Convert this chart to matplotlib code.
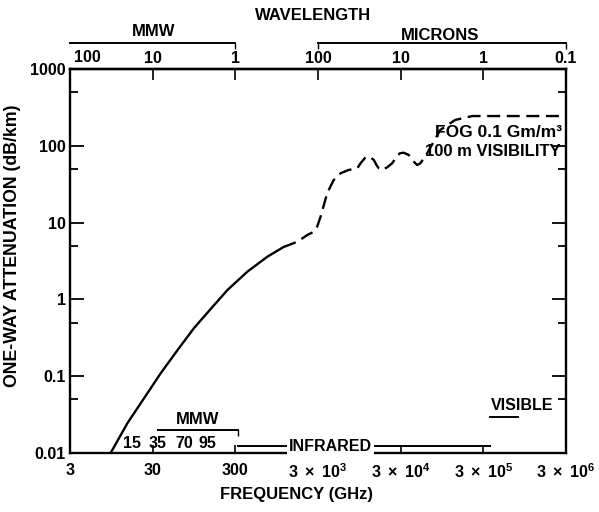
import matplotlib
matplotlib.use("Agg")
import matplotlib.pyplot as plt
import matplotlib.transforms as mtransforms
from matplotlib.ticker import FixedLocator, NullLocator, NullFormatter

plt.rcParams['font.family'] = ['Liberation Sans', 'DejaVu Sans']
plt.rcParams['font.weight'] = 'bold'
plt.rcParams['mathtext.fontset'] = 'custom'
plt.rcParams['mathtext.rm'] = 'Liberation Sans:bold'
plt.rcParams['mathtext.bf'] = 'Liberation Sans:bold'
plt.rcParams['mathtext.it'] = 'Liberation Sans:bold'

# ---- data ----
freq_solid = [9.3, 14.9, 26.0, 37.7, 60, 95, 151, 240, 420, 733, 1150]
atten_solid = [0.0100, 0.0246, 0.0604, 0.110, 0.219, 0.424, 0.75, 1.32, 2.30, 3.60, 4.81]

freq_dash = [1150, 1690, 2230, 2670, 2930, 3220, 3880, 4650, 5625, 7030, 8955,
             9800, 11270, 12710, 14200, 15300, 16300, 17950, 20600, 23700,
             25950, 29250, 32700, 37600, 41300, 47500, 52000, 57000, 62700,
             90600, 137000, 220000, 3.0e6]
atten_dash = [4.81, 5.64, 6.9, 7.6, 8.85, 11.9, 24.3, 35.9, 43.9, 48.4, 50.9,
              59.2, 70.8, 72.1, 65.3, 56.2, 50.9, 48.4, 52.5, 59.2,
              68.8, 79.9, 81.3, 75.9, 65.3, 56.2, 59.2, 68.8, 79.9,
              161, 217, 244, 244]

freq_ticks = [3, 30, 300, 3e3, 3e4, 3e5, 3e6]
freq_labels = ["3", "30", "300", r"$3\ \times\ 10^{3}$", r"$3\ \times\ 10^{4}$",
               r"$3\ \times\ 10^{5}$", r"$3\ \times\ 10^{6}$"]
atten_ticks = [0.01, 0.1, 1, 10, 100, 1000]
atten_labels = ["0.01", "0.1", "1", "10", "100", "1000"]
atten_minor = [0.05, 0.5, 5, 50, 500]

wl_mm = [100, 10, 1]
wl_mm_labels = ["100", "10", "1"]
wl_um = [100, 10, 1, 0.1]
wl_um_labels = ["100", "10", "1", "0.1"]

mmw_band_top = [3, 300]          # 100 mm .. 1 mm
micron_band_top = [3e3, 3e6]     # 100 um .. 0.1 um
mmw_band = [35, 320]
infrared_band = [320, 3.65e5]
visible_band = [3.65e5, 7.9e5]
windows = ["15", "35", "70", "95"]

W, H = 599, 512
fig = plt.figure(figsize=(W / 100, H / 100), dpi=100)
L, R, T, B = 70, 566, 69, 453
ax = fig.add_axes([L / W, 1 - B / H, (R - L) / W, (B - T) / H])
ax.set_xscale('log')
ax.set_yscale('log')
ax.set_xlim(3, 3e6)
ax.set_ylim(0.01, 1000)

for s in ax.spines.values():
    s.set_linewidth(1.7)

ax.plot(freq_solid, atten_solid, color='black', lw=1.7, solid_capstyle='round')
ax.plot(freq_dash, atten_dash, color='black', lw=1.7, linestyle=(0, (5.5, 2.8)))

fs = 11.5
ax.set_xticks(freq_ticks, freq_labels, fontsize=fs, fontweight='bold')
ax.xaxis.set_minor_locator(NullLocator())
ax.tick_params(axis='x', which='major', direction='in', length=6, width=1.2,
               pad=7, top=False)
ax.set_yticks(atten_ticks, atten_labels, fontsize=fs, fontweight='bold')
ax.yaxis.set_minor_locator(FixedLocator(atten_minor))
ax.yaxis.set_minor_formatter(NullFormatter())
ax.tick_params(axis='y', which='major', direction='in', length=10, width=1.3,
               pad=3, right=True)
ax.tick_params(axis='y', which='minor', direction='in', length=6, width=1.3,
               right=True)

# top wavelength axis
sec = ax.secondary_xaxis('top')
wl_freqs = [300.0 / w for w in wl_mm] + [3e5 / w for w in wl_um]
wl_labels = wl_mm_labels + wl_um_labels
sec.set_xticks(wl_freqs, [""] + wl_labels[1:], fontsize=fs, fontweight='bold')
sec.xaxis.set_minor_locator(NullLocator())
sec.tick_params(axis='x', direction='in', length=8, width=1.2, pad=2.5)
sec.spines['top'].set_linewidth(1.7)
trans = mtransforms.blended_transform_factory(ax.transData, ax.transAxes)
ax.text(wl_freqs[0] * 1.12, 1.0 + 11 / 384, wl_labels[0], transform=trans,
        ha='left', va='center', fontsize=fs, fontweight='bold')

# wavelength bars
ybar = (B - 43) / (B - T)
ax.plot(mmw_band_top, [ybar, ybar], transform=trans, color='black', lw=1.4,
        clip_on=False, marker=3, markersize=4, markevery=[1])
ax.plot(micron_band_top, [ybar, ybar], transform=trans, color='black', lw=1.4,
        clip_on=False, marker=3, markersize=4)
ax.text(31, (B - 32) / (B - T), "MMW", transform=trans, ha='center',
        va='center', fontsize=12, fontweight='bold')
ax.text(8.9e4, (B - 36) / (B - T), "MICRONS", transform=trans, ha='center',
        va='center', fontsize=12, fontweight='bold')
ax.text((313 - L) / (R - L), (B - 15) / (B - T), "WAVELENGTH",
        transform=ax.transAxes, ha='center', va='center', fontsize=12,
        fontweight='bold')

# axis titles
ax.set_xlabel("FREQUENCY (GHz)", fontsize=12, fontweight='bold')
ax.xaxis.set_label_coords((297 - L) / (R - L), (B - 495) / (B - T))
ax.xaxis.label.set_va('center')
ax.set_ylabel("ONE-WAY ATTENUATION (dB/km)", fontsize=12.8, fontweight='bold')
ax.yaxis.set_label_coords((13 - L) / (R - L), (B - 246) / (B - T))
ax.yaxis.label.set_va('center')

# annotations
ax.text(2.7e6, 151, "FOG 0.1 Gm/m³", ha='right', va='center', fontsize=12.5,
        fontweight='bold')
ax.text(2.55e6, 85.5, "100 m VISIBILITY", ha='right', va='center',
        fontsize=12, fontweight='bold')
ax.text(8.85e5, 0.042, "VISIBLE", ha='center', va='center', fontsize=fs,
        fontweight='bold')
ax.plot(visible_band, [0.0294, 0.0294], color='black', lw=1.4)

ax.text(105, 0.0277, "MMW", ha='center', va='center', fontsize=12,
        fontweight='bold')
ax.plot(mmw_band, [0.0199, 0.0199], color='black', lw=1.4, marker=3,
        markersize=4, markevery=[1])

ax.plot(infrared_band, [0.0122, 0.0122], color='black', lw=1.4)
ax.text(4250, 0.0122, "INFRARED", ha='center', va='center', fontsize=fs,
        fontweight='bold', bbox=dict(facecolor='white', edgecolor='none', pad=1.5))

for lbl, fx in zip(windows, [16.8, 34, 72, 139]):
    ax.text(fx, 0.0134, lbl, ha='center', va='center', fontsize=fs,
            fontweight='bold')

fig.savefig("out.png", dpi=100)
